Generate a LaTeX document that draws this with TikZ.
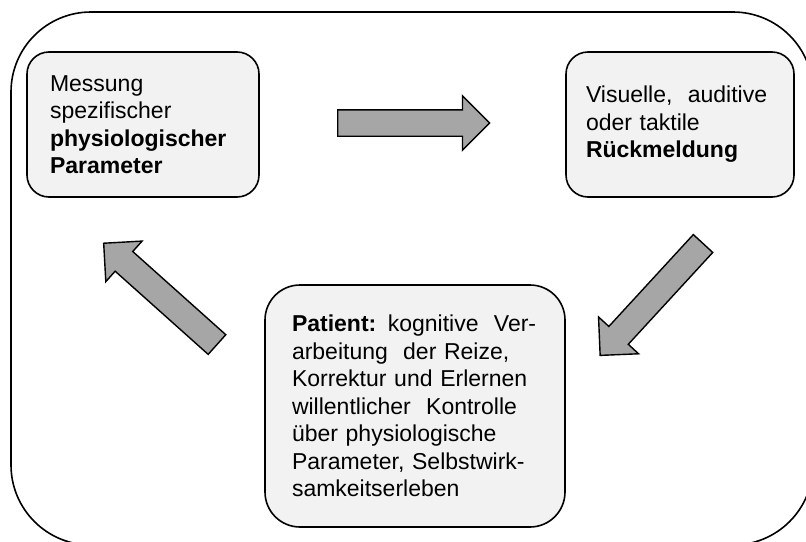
\documentclass[tikz,border=0pt]{standalone}
\usepackage{fontspec}
\setmainfont{Liberation Sans}
\usetikzlibrary{shapes.arrows}

\begin{document}
\begin{tikzpicture}[
		x=1pt, y=-1pt,
		font=\fontsize{23}{27.5}\selectfont,
		infonode/.style={rectangle, rounded corners=22pt, draw=black, fill=black!5, line width=1.6pt, align=left, inner ysep=0pt},
		flowarrow/.style={single arrow, anchor=tail, draw=black, fill=black!35, line width=1.4pt, inner xsep=0pt, inner ysep=12.5pt, minimum height=152pt, minimum width=53pt, single arrow head extend=14pt},
	]
		\useasboundingbox (0,0) rectangle (806,541);

		% frame
		\draw[line width=1.6pt, rounded corners=80pt] (11,12) rectangle (813,545);

		% nodes
		\node[infonode, minimum width=232pt, minimum height=145pt, text width=186pt, inner xsep=23pt] (messung) at (143,124.5)
			{Messung\\spezifischer\\\textbf{physiologischer}\\\textbf{Parameter}};
		\node[infonode, minimum width=228pt, minimum height=145pt, text width=188pt, inner xsep=20pt] (rueckmeldung) at (680,124.5)
			{Visuelle,~ auditive\\oder taktile\\\textbf{Rückmeldung}};
		\node[infonode, rounded corners=35pt, minimum width=300pt, minimum height=242pt, text width=246pt, inner xsep=27pt] (patient) at (415,406)
			{\textbf{Patient:} kognitive~ Ver-\\arbeitung~ der Reize,\\Korrektur und Erlernen\\willentlicher~ Kontrolle\\über physiologische\\Parameter, Selbstwirk-\\samkeitserleben};

		% arrows
		\node[flowarrow] (arrowright) at (337,123) {};
		\node[flowarrow, rotate=-132.6] (arrowdown) at (703.5,243) {};
		\node[flowarrow, rotate=138.2] (arrowup) at (217.5,345) {};

\end{tikzpicture}
\end{document}
